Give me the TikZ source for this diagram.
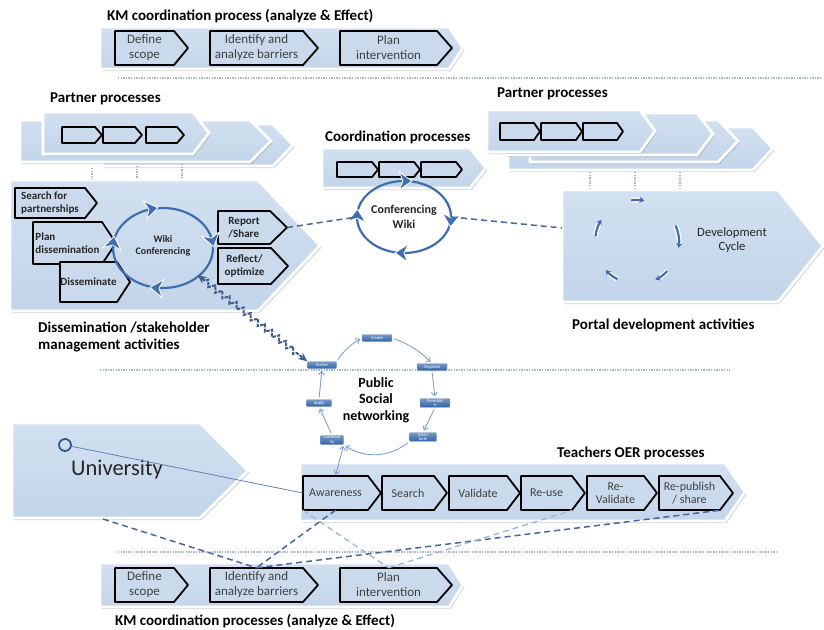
\documentclass[tikz,border=0pt]{standalone}
\usepackage{fontspec}
\setmainfont{Carlito}
\usetikzlibrary{shapes.geometric,arrows.meta,decorations.pathmorphing,shadows,calc}
\pgfdeclarelayer{back}
\pgfsetlayers{back,main}

\definecolor{chevA}{HTML}{D2E0F0}
\definecolor{chevB}{HTML}{C3D5EA}
\definecolor{boxfill}{HTML}{CAD9EC}
\definecolor{darkdash}{HTML}{46689A}
\definecolor{lightdash}{HTML}{9AB7DA}
\definecolor{ringblue}{HTML}{3F6EB0}
\definecolor{dotc}{HTML}{A9B7C9}
\definecolor{tagblue}{HTML}{2F62A6}
\definecolor{cycarrow}{HTML}{7EA2CF}

% chevron band: [style]{x1}{y1}{x-corner}{y2}{x-tip}
\newcommand\chevron[6][]{\path[#1] (#2,#3) -- (#4,#3) -- (#6,{(#3+#5)/2}) -- (#4,#5) -- (#2,#5) -- cycle;}
% process step: [node style]{name}{x1}{y1}{x-body}{y2}{x-tip}{text}
\newcommand\pbox[8][]{%
  \draw[boxst] (#3,#4) -- (#5,#4) -- (#7,{(#4+#6)/2}) -- (#5,#6) -- (#3,#6) -- cycle;
  \node[boxtxt,#1,minimum width={(#5-#3)*1pt},minimum height={(#6-#4)*1pt}] (#2) at ({(#3+#5)/2},{(#4+#6)/2}) {#8};}

\tikzset{
  chev/.style={top color=chevA, bottom color=chevB, draw=white, line width=2.8pt, line join=miter,
    drop shadow={shadow xshift=1.5pt, shadow yshift=-2pt, opacity=.35}},
  boxst/.style={fill=boxfill, draw=black, line width=1.8pt, line join=round},
  boxtxt/.style={inner sep=0pt, text=black!75, font=\fontsize{13}{15}\selectfont, align=center},
  dtxt/.style={font=\fontsize{11}{12.5}\selectfont\bfseries, align=left, text=black!85},
  oer/.style={font=\fontsize{12}{13.5}\selectfont},
  head/.style={font=\fontsize{15}{17}\selectfont\bfseries, inner sep=0pt, anchor=west, align=left},
  dotline/.style={dotc, line width=1.8pt, dash pattern=on 1.3pt off 1.3pt},
  dd/.style={darkdash, line width=1.5pt, dash pattern=on 6pt off 4pt},
  ld/.style={lightdash, line width=1.3pt, dash pattern=on 6pt off 4pt},
  ring/.style={ringblue, line width=2.2pt},
  ringhead/.pic={\path[fill=ringblue, draw=white, line width=0.8pt, line join=miter]
      (7,0) -- (-6,-9) -- (-2,0) -- (-6,9) -- cycle;},
  devarr/.style={ringblue, line width=2.2pt, -{Stealth[length=5pt,width=6.5pt]},
      preaction={draw=white, line width=5pt}},
  tag/.style={top color=tagblue!65!white, bottom color=tagblue, draw=tagblue!60!white, line width=0.4pt,
      rounded corners=1pt, text=white, font=\fontsize{4.5}{4.6}\selectfont, inner sep=0.6pt,
      minimum height=7pt, align=center},
  cyc/.style={cycarrow, line width=0.9pt, -{Straight Barb[length=3.5pt,width=6pt]}, shorten >=2pt, shorten <=2pt},
}

\begin{document}
\begin{tikzpicture}[x=1pt,y=-1pt]
\useasboundingbox (0,0) rectangle (824,629);
\fill[white] (0,0) rectangle (824,629);

% separators between the process levels
\draw[dotline] (118,78) -- (822,78);
\draw[dotline] (100,370) -- (730,370);
\draw[dotline] (118,552) -- (778,552);

% ---------- KM coordination (top) ----------
\node[head] (kmTtitle) at (107,16) {KM coordination process (analyze \& Effect)};
\chevron[chev]{100}{27}{449}{69}{463}
\pbox{defT}{115}{31}{174}{65}{188}{Define\\scope}
\pbox{idT}{210}{31}{303}{65}{318}{Identify and\\analyze barriers}
\pbox{plT}{340}{31}{437}{65}{452}{Plan\\intervention}

% ---------- partner processes (left) ----------
\node[head] (ppLtitle) at (50,99) {Partner processes};
\chevron[chev]{103}{124}{273}{166}{293}
\chevron[chev]{20}{120}{250}{162}{271}
\chevron[chev]{43}{112}{193}{154}{209}
\pbox{lp1}{62}{127}{95}{143}{102}{}
\pbox{lp2}{103}{127}{135}{143}{142}{}
\pbox{lp3}{146}{127}{177}{143}{184}{}
\coordinate (lpTip) at (300,134);
\draw[dotline] (92,168) -- (92,180);
\draw[dotline] (137,166) -- (137,180);
\draw[dotline] (182,164) -- (182,180);

% ---------- dissemination / stakeholder management ----------
\chevron[chev]{10}{180}{258}{311}{320}
\pbox[dtxt]{srch}{15}{188}{85}{218}{97}{Search for\\partnerships}
\pbox[dtxt]{plan}{33}{222}{102}{264}{116}{Plan\\dissemination}
\pbox[dtxt]{diss}{60}{262}{117}{302}{130}{Disseminate}
\pbox[dtxt]{rep}{218}{211}{270}{244}{287}{Report\\/Share}
\pbox[dtxt,align=center]{refl}{218}{248}{271}{284}{288}{Reflect/\\optimize}
\coordinate (repTip) at (287,227.5);
\draw[ring] (163,248) ellipse [x radius=50, y radius=40];
\pic[rotate=11] at (151,209) {ringhead};
\pic[rotate=-76] at (212,240) {ringhead};
\pic[rotate=174] at (157,288) {ringhead};
\pic[rotate=81] at (113,243) {ringhead};
\node[ellipse, minimum width=100pt, minimum height=80pt, inner sep=0pt, align=center,
      font=\fontsize{10}{12}\selectfont\bfseries, text=black!85] (wikic) at (163,246) {Wiki\\Conferencing};
\node[head] (dissTitle) at (38,337) {Dissemination /stakeholder\\management activities};

% ---------- coordination processes ----------
\node[head] (coTitle) at (325,137) {Coordination processes};
\chevron[chev]{322}{148}{470}{188}{486}
\pbox{cp1}{337}{162}{372}{177}{378}{}
\pbox{cp2}{379}{162}{414}{177}{420}{}
\pbox{cp3}{421}{162}{456}{177}{462}{}
\draw[ring] (404,217) ellipse [x radius=47, y radius=36];
\pic[rotate=0] at (405,181) {ringhead};
\pic[rotate=-95] at (451,220) {ringhead};
\pic[rotate=178] at (402,253) {ringhead};
\pic[rotate=87] at (357,216) {ringhead};
\node[ellipse, minimum width=94pt, minimum height=72pt, inner sep=0pt, align=center,
      font=\fontsize{12}{14.5}\selectfont\bfseries, text=black!85] (confc) at (404,217) {Conferencing\\Wiki};

% ---------- partner processes (right) ----------
\node[head] (ppRtitle) at (497,94) {Partner processes};
\chevron[chev]{508}{127}{753}{170}{773}
\chevron[chev]{530}{120}{718}{162}{738}
\chevron[chev]{505}{113}{697}{155}{713}
\chevron[chev]{487}{110}{640}{152}{655}
\pbox{rp1}{500}{123}{534}{140}{540}{}
\pbox{rp2}{541}{123}{576}{140}{582}{}
\pbox{rp3}{583}{123}{617}{140}{623}{}
\draw[dotline] (590,172) -- (590,190);
\draw[dotline] (635,172) -- (635,190);
\draw[dotline] (680,172) -- (680,190);

% ---------- portal development ----------
\chevron[chev]{562}{190}{778}{302}{823}
\coordinate (portL) at (562,228);
\draw[devarr] (637,242) ++(262:42) arc[start angle=262, end angle=280, radius=42];
\draw[devarr] (637,242) ++(337:42) arc[start angle=337, end angle=368, radius=42];
\draw[devarr] (637,242) ++(44:42) arc[start angle=44, end angle=64, radius=42];
\draw[devarr] (637,242) ++(118:42) arc[start angle=118, end angle=138, radius=42];
\draw[devarr] (637,242) ++(188:42) arc[start angle=188, end angle=212, radius=42];
\node[align=center, font=\fontsize{12.7}{14}\selectfont, text=black!85] (devc) at (732,240) {Development\\Cycle};
\node[head] (portTitle) at (572,325) {Portal development activities};

% ---------- public social networking cycle ----------
\node[tag, minimum width=30pt] (create) at (377,338) {Create};
\node[tag, minimum width=30pt] (organize) at (432,367) {Organize};
\node[tag, minimum width=30pt] (formal) at (435,403) {Formaliz\\e};
\node[tag, minimum width=27pt] (distrib) at (423,437) {Distri\\bute};
\node[tag, minimum width=23pt] (commun) at (332,440) {Commun\\ity};
\node[tag, minimum width=25pt] (apply) at (319,403) {Apply};
\node[tag, minimum width=29pt] (evolve) at (322,365) {Evolve};
\node[align=center, font=\fontsize{14}{16.5}\selectfont\bfseries] (psn) at (376,400) {Public\\Social\\networking};
\draw[cyc] (evolve.north east) to[bend left=12] (create.west);
\draw[cyc] (create.east) to[bend left=12] (organize.north);
\draw[cyc] (organize.south) -- (formal.north);
\draw[cyc] (formal.south) -- (distrib.north);
\draw[cyc] (distrib.south west) to[bend left=35] (commun.south east);
\draw[cyc] (commun.north) -- (apply.south);
\draw[cyc] (apply.north) -- (evolve.south);

% ---------- university ----------
\chevron[chev]{12}{423}{200}{518}{248}
\node[circle, draw=ringblue!80!black, line width=1.8pt, minimum size=12pt, inner sep=0pt] (uring) at (65,445) {};
\node[font=\fontsize{22.5}{25}\selectfont, text=black!85] (uni) at (117,470) {University};
\coordinate (uniB) at (103,519);

% ---------- teachers OER processes ----------
\node[head] (oerTitle) at (557,453) {Teachers OER processes};
\chevron[chev]{300}{463}{725}{521}{745}
\pbox[oer]{aware}{303}{476}{368}{510}{381}{Awareness}
\pbox[oer]{search}{382}{476}{434}{510}{447}{Search}
\pbox[oer]{valid}{449}{476}{507}{510}{520}{Validate}
\pbox[oer]{reuse}{521}{476}{572}{510}{585}{Re-use}
\pbox[oer]{reval}{587}{476}{644}{510}{657}{Re-\\Validate}
\pbox[oer]{repub}{659}{476}{720}{510}{733}{Re-publish\\/ share}

% ---------- KM coordination (bottom) ----------
\chevron[chev]{100}{563}{449}{607}{463}
\pbox{defB}{115}{568}{174}{602}{188}{Define\\scope}
\pbox{idB}{210}{568}{303}{602}{318}{Identify and\\analyze barriers}
\pbox{plB}{340}{568}{437}{602}{452}{Plan\\intervention}
\node[head] (kmBtitle) at (115,621) {KM coordination processes (analyze \& Effect)};

% ---------- connectors ----------
\begin{pgfonlayer}{back}
  \draw[dd] (idT.south) -- (confc.west);
  \draw[ld] ($(plT.south)+(-15,3)$) -- (lpTip);
\end{pgfonlayer}
\draw[dd] (repTip) -- (confc.west);
\draw[dd] (confc.east) -- (portL);
\draw[darkdash!90!black, line width=2pt, dash pattern=on 3.5pt off 1.2pt,
      {Stealth[length=9pt,width=8pt]}-{Stealth[length=9pt,width=8pt]},
      decorate, decoration={zigzag, segment length=9pt, amplitude=3pt, pre length=9pt, post length=10pt}]
      (wikic.-40) -- (evolve.north west);
\draw[ringblue!85, line width=0.8pt] (uring) -- (aware.west);
\draw[cycarrow, line width=0.9pt, {Straight Barb[length=3.5pt,width=6pt]}-{Straight Barb[length=3.5pt,width=6pt]},
      shorten <=1pt, shorten >=1pt] (commun.south east) -- (aware.north);
\draw[dd] (uniB) -- (idB.north);
\draw[dd] (aware.south) -- (idB.north);
\draw[dd] (idB.north) -- (repub.south east);
\draw[ld] (aware.south west) -- (plB.north);
\draw[ld] (plB.north) -- (reuse.south east);
\end{tikzpicture}
\end{document}
